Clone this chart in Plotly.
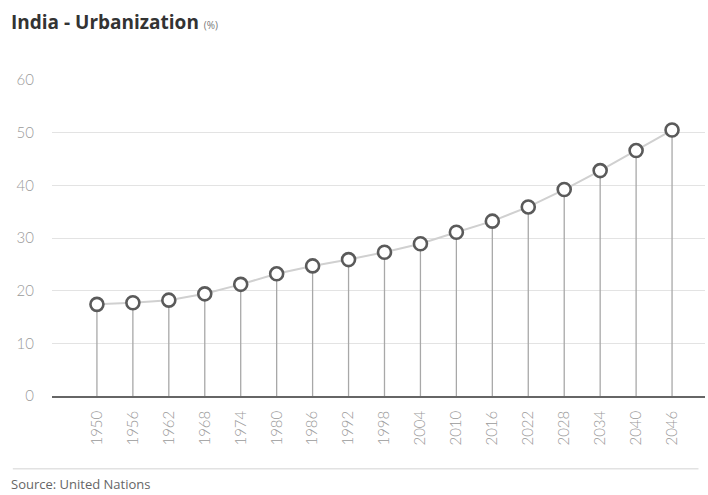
import plotly.graph_objects as go

years = [1950, 1956, 1962, 1968, 1974, 1980, 1986, 1992, 1998, 2004, 2010, 2016, 2022, 2028, 2034, 2040, 2046]
urban_pct = [17.4, 17.7, 18.2, 19.4, 21.2, 23.2, 24.7, 25.9, 27.3, 28.9, 31.1, 33.2, 35.9, 39.2, 42.8, 46.6, 50.5]
y_ticks = [0, 10, 20, 30, 40, 50, 60]

FONT = "Lato"

fig = go.Figure()

# stems
fig.add_trace(go.Scatter(
    x=years, y=urban_pct, mode="markers",
    marker=dict(size=0.1, color="rgba(0,0,0,0)"),
    error_y=dict(type="data", symmetric=False, array=[0] * len(years),
                 arrayminus=urban_pct, width=0, color="#a8a8a8", thickness=1.3),
    hoverinfo="skip", showlegend=False,
))
# connecting line + markers
fig.add_trace(go.Scatter(
    x=years, y=urban_pct, mode="lines+markers",
    line=dict(color="#d0d0d0", width=2),
    marker=dict(size=13, color="white", line=dict(color="#5a5a5a", width=2.6)),
    showlegend=False,
))

fig.update_layout(
    width=708, height=495,
    margin=dict(l=52, r=3, t=80, b=99),
    paper_bgcolor="white", plot_bgcolor="white",
    font=dict(family=FONT, color="#999999"),
    xaxis=dict(
        range=[1942.5, 2051.5],
        tickmode="array", tickvals=years, ticktext=[str(y) for y in years],
        tickangle=-90, tickfont=dict(size=15, color="#9a9a9a", weight=300),
        showgrid=False, zeroline=False,
        showline=True, linecolor="#666666", linewidth=1.5,
        ticks="", ticklabelstandoff=7,
    ),
    yaxis=dict(
        range=[0, 60], tickmode="array", tickvals=y_ticks,
        tickfont=dict(size=15, color="#9a9a9a", weight=300),
        showgrid=True, gridcolor="#e3e3e3", gridwidth=1,
        zeroline=False, showline=False, ticks="",
        ticklabelstandoff=17,
    ),
    shapes=[dict(type="line", xref="paper", yref="paper", x0=-0.06, x1=0.99,
                 y0=-0.23, y1=-0.23, line=dict(color="#e2e2e2", width=1.5))],
    annotations=[
        dict(text="<b>India - Urbanization</b> <span style='font-size:10px;color:#777'>(%)</span>",
             xref="paper", yref="paper", x=-0.066, y=1.183, xanchor="left", yanchor="middle",
             showarrow=False, font=dict(size=19, color="#333333", family="Open Sans")),
        dict(text="Source: United Nations", xref="paper", yref="paper",
             x=-0.066, y=-0.278, xanchor="left", yanchor="middle", showarrow=False,
             font=dict(size=13, color="#666666", family="Open Sans")),
    ],
)

fig.write_html("out.html")
